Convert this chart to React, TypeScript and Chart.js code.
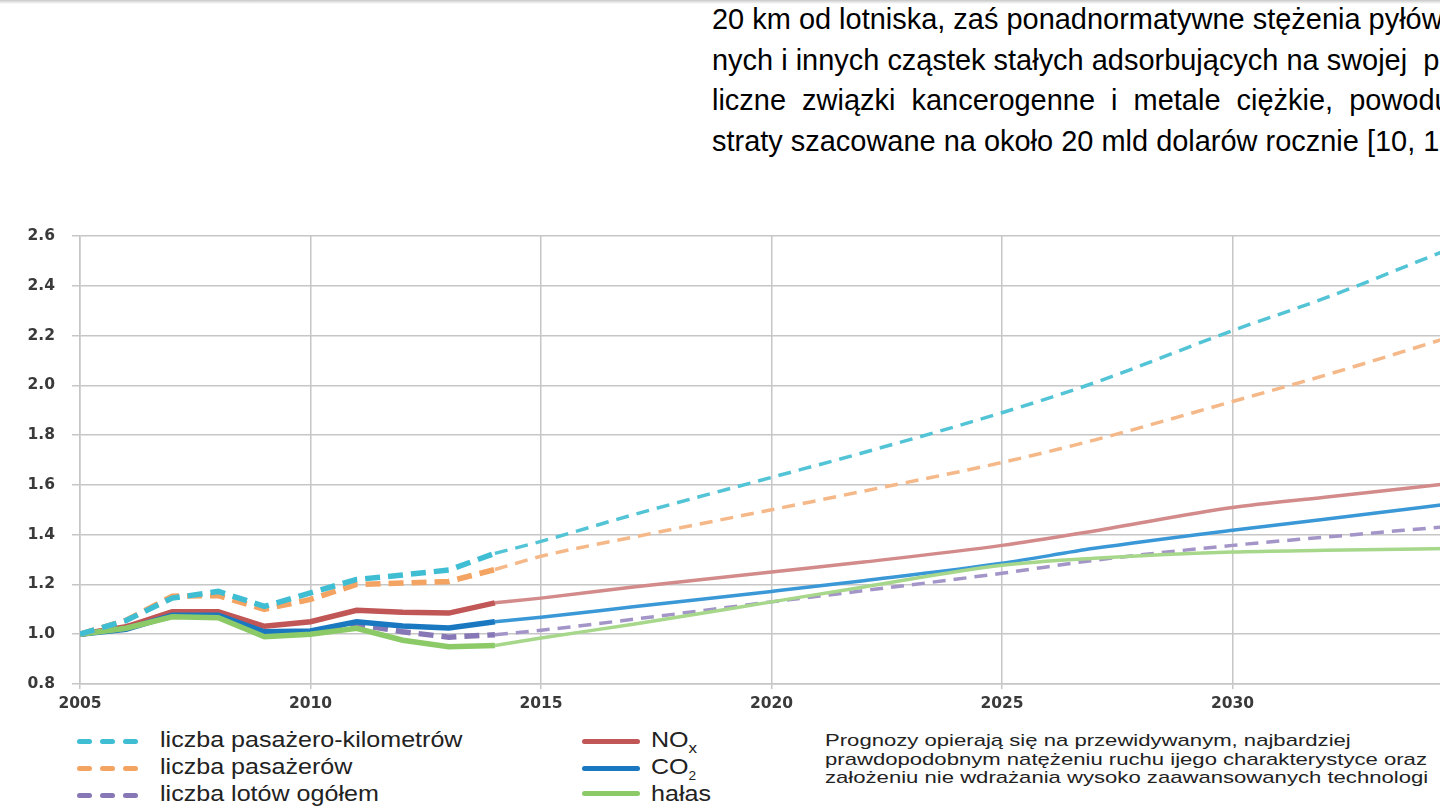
import React, { useEffect, useRef } from "react";
import { Chart, registerables } from "chart.js";

Chart.register(...registerables);

// ---- data ----
const histYears = [2005, 2006, 2007, 2008, 2009, 2010, 2011, 2012, 2013, 2014];
const fcYears = [2014, 2015, 2017, 2020, 2022, 2025, 2027, 2030, 2032, 2035];

const paxKmHist = [1.0, 1.055, 1.145, 1.172, 1.112, 1.166, 1.22, 1.238, 1.258, 1.325];
const paxKmFc = [1.325, 1.373, 1.48, 1.63, 1.73, 1.89, 2.01, 2.22, 2.35, 2.57];

const paxHist = [1.0, 1.056, 1.153, 1.155, 1.1, 1.14, 1.2, 1.206, 1.212, 1.26];
const paxFc = [1.26, 1.313, 1.39, 1.5, 1.575, 1.69, 1.78, 1.935, 2.04, 2.21];

const flightsHist = [1.0, 1.03, 1.075, 1.072, 1.005, 1.005, 1.04, 1.01, 0.988, 0.998];
const flightsFc = [0.998, 1.016, 1.06, 1.13, 1.175, 1.245, 1.297, 1.357, 1.39, 1.438];

const noxHist = [1.0, 1.03, 1.09, 1.09, 1.032, 1.05, 1.096, 1.088, 1.085, 1.126];
const noxFc = [1.126, 1.145, 1.19, 1.25, 1.29, 1.357, 1.415, 1.509, 1.55, 1.612];

const co2Hist = [1.0, 1.02, 1.076, 1.076, 1.01, 1.013, 1.05, 1.033, 1.025, 1.05];
const co2Fc = [1.05, 1.068, 1.11, 1.172, 1.215, 1.285, 1.345, 1.418, 1.462, 1.53];

const noiseHist = [1.0, 1.024, 1.07, 1.066, 0.99, 1.0, 1.024, 0.976, 0.95, 0.955];
const noiseFc = [0.955, 0.985, 1.04, 1.13, 1.19, 1.277, 1.305, 1.33, 1.337, 1.345];

const yMin = 0.8;
const yMax = 2.6;
const yStep = 0.2;
const xMin = 2005;
const xMax = 2035;
const xStep = 5;

const topText = [
  "20 km od lotniska, zaś ponadnormatywne stężenia pyłów",
  "nych i innych cząstek stałych adsorbujących na swojej  p",
  "liczne  związki  kancerogenne  i  metale  ciężkie,  powoduj",
  "straty szacowane na około 20 mld dolarów rocznie [10, 1",
];

const noteLines = [
  "Prognozy opierają się na przewidywanym, najbardziej",
  "prawdopodobnym natężeniu ruchu ijego charakterystyce oraz",
  "założeniu nie wdrażania wysoko zaawansowanych technologi",
];

const pts = (xs: number[], ys: number[]) => xs.map((x, i) => ({ x, y: ys[i] }));

function ChartCanvas() {
  const ref = useRef<HTMLCanvasElement | null>(null);
  useEffect(() => {
    if (!ref.current) return;
    const hist = (data: number[], color: string, dashed: boolean) => ({
      data: pts(histYears, data),
      borderColor: color,
      borderWidth: 5.5,
      borderDash: dashed ? [15, 8] : [],
      pointRadius: 0,
      tension: 0,
      fill: false,
    });
    const fc = (data: number[], color: string, dashed: boolean) => ({
      data: pts(fcYears, data),
      borderColor: color,
      borderWidth: 3.5,
      borderDash: dashed ? [13, 8] : [],
      pointRadius: 0,
      cubicInterpolationMode: "monotone" as const,
      fill: false,
    });
    const datasets: any[] = [
      hist(paxKmHist, "#3fbdd3", true),
      fc(paxKmFc, "#52c4d6", true),
      hist(paxHist, "#f4a462", true),
      fc(paxFc, "#f5b888", true),
      hist(noiseHist, "#8cca68", false),
      fc(noiseFc, "#a6d78a", false),
      hist(co2Hist, "#1a78c0", false),
      fc(co2Fc, "#3a98d7", false),
      hist(noxHist, "#c05656", false),
      fc(noxFc, "#d28a8a", false),
      hist(flightsHist, "#8877b6", true),
      fc(flightsFc, "#a495c8", true),
    ];
    const grid = "#c6c6c6";
    const tickFont = { family: "'DejaVu Sans', sans-serif", size: 15.5, weight: "bold" as const };
    const chart = new Chart(ref.current, {
      type: "line",
      data: { datasets },
      options: {
        animation: false,
        responsive: false,
        devicePixelRatio: 1,
        layout: { padding: { top: 36, right: 37, bottom: 0, left: 0 } },
        plugins: { legend: { display: false }, tooltip: { enabled: false } },
        scales: {
          x: {
            type: "linear",
            min: xMin,
            max: xMax,
            afterFit: (s: any) => {
              s.height = 36;
            },
            ticks: {
              stepSize: xStep,
              padding: 6,
              color: "#3a3a3a",
              font: tickFont,
              callback: (v: any) => String(v),
              maxRotation: 0,
            },
            grid: { color: grid, lineWidth: 1.5, tickLength: 5 },
            border: { color: grid, width: 1.5 },
          },
          y: {
            min: yMin,
            max: yMax,
            afterFit: (s: any) => {
              s.width = 80;
            },
            ticks: {
              stepSize: yStep,
              padding: 17,
              color: "#3a3a3a",
              font: tickFont,
              callback: (v: any) => Number(v).toFixed(1),
            },
            grid: { color: grid, lineWidth: 1.5, tickLength: 8 },
            border: { color: grid, width: 1.5 },
          },
        },
      },
    });
    return () => chart.destroy();
  }, []);
  return (
    <canvas
      ref={ref}
      width={1500}
      height={520}
      style={{ position: "absolute", left: 0, top: 200, width: 1500, height: 520 }}
    />
  );
}

const legendFont: React.CSSProperties = {
  position: "absolute",
  fontFamily: "'Liberation Sans', Arial, sans-serif",
  fontSize: 22,
  color: "#222",
  whiteSpace: "nowrap",
  transform: "scaleX(1.14)",
  transformOrigin: "left center",
  lineHeight: "22px",
};

const subStyle: React.CSSProperties = {
  fontSize: 15,
  position: "relative",
  top: 6,
  verticalAlign: "baseline",
};

function DashSample({ x, y, color }: { x: number; y: number; color: string }) {
  return (
    <>
      {[0, 1, 2].map((i) => (
        <div
          key={i}
          style={{
            position: "absolute",
            left: x + i * 23,
            top: y - 2,
            width: 15,
            height: 5,
            borderRadius: 2.5,
            background: color,
          }}
        />
      ))}
    </>
  );
}

function SolidSample({ x, y, color }: { x: number; y: number; color: string }) {
  return (
    <div
      style={{
        position: "absolute",
        left: x,
        top: y - 2.5,
        width: 58,
        height: 5,
        borderRadius: 2.5,
        background: color,
      }}
    />
  );
}

export default function App() {
  return (
    <div
      style={{
        position: "fixed",
        left: 0,
        top: 0,
        width: 1440,
        height: 810,
        overflow: "hidden",
        background: "#fff",
      }}
    >
      <div
        style={{
          position: "absolute",
          left: 0,
          top: 0,
          width: 1440,
          height: 4,
          background: "linear-gradient(#c8c8c8, #ffffff)",
        }}
      />
      {topText.map((t, i) => (
        <div
          key={i}
          style={{
            position: "absolute",
            left: 712,
            top: 2 + i * 40.5,
            fontFamily: "'Liberation Sans', Arial, sans-serif",
            fontSize: 30,
            lineHeight: "34px",
            color: "#000",
            whiteSpace: "pre",
            transform: "scaleX(0.965)",
            transformOrigin: "left center",
          }}
        >
          {t}
        </div>
      ))}
      <ChartCanvas />

      <DashSample x={77} y={741} color="#3fbdd3" />
      <DashSample x={77} y={768} color="#f4a462" />
      <DashSample x={77} y={795} color="#8877b6" />
      <div style={{ ...legendFont, left: 160, top: 729 }}>liczba pasażero-kilometrów</div>
      <div style={{ ...legendFont, left: 160, top: 756 }}>liczba pasażerów</div>
      <div style={{ ...legendFont, left: 160, top: 783 }}>liczba lotów ogółem</div>

      <SolidSample x={582} y={741} color="#c05656" />
      <SolidSample x={582} y={768} color="#1a78c0" />
      <SolidSample x={582} y={793} color="#8cca68" />
      <div style={{ ...legendFont, left: 651, top: 729 }}>
        NO<span style={subStyle}>x</span>
      </div>
      <div style={{ ...legendFont, left: 651, top: 756 }}>
        CO<span style={{ ...subStyle, fontSize: 12 }}>2</span>
      </div>
      <div style={{ ...legendFont, left: 651, top: 783 }}>hałas</div>

      {noteLines.map((t, i) => (
        <div
          key={i}
          style={{
            position: "absolute",
            left: 825,
            top: 731 + i * 18.5,
            fontFamily: "'Liberation Sans', Arial, sans-serif",
            fontSize: 17,
            lineHeight: "19px",
            color: "#222",
            whiteSpace: "nowrap",
            transform: "scaleX(1.3)",
            transformOrigin: "left center",
          }}
        >
          {t}
        </div>
      ))}
    </div>
  );
}
